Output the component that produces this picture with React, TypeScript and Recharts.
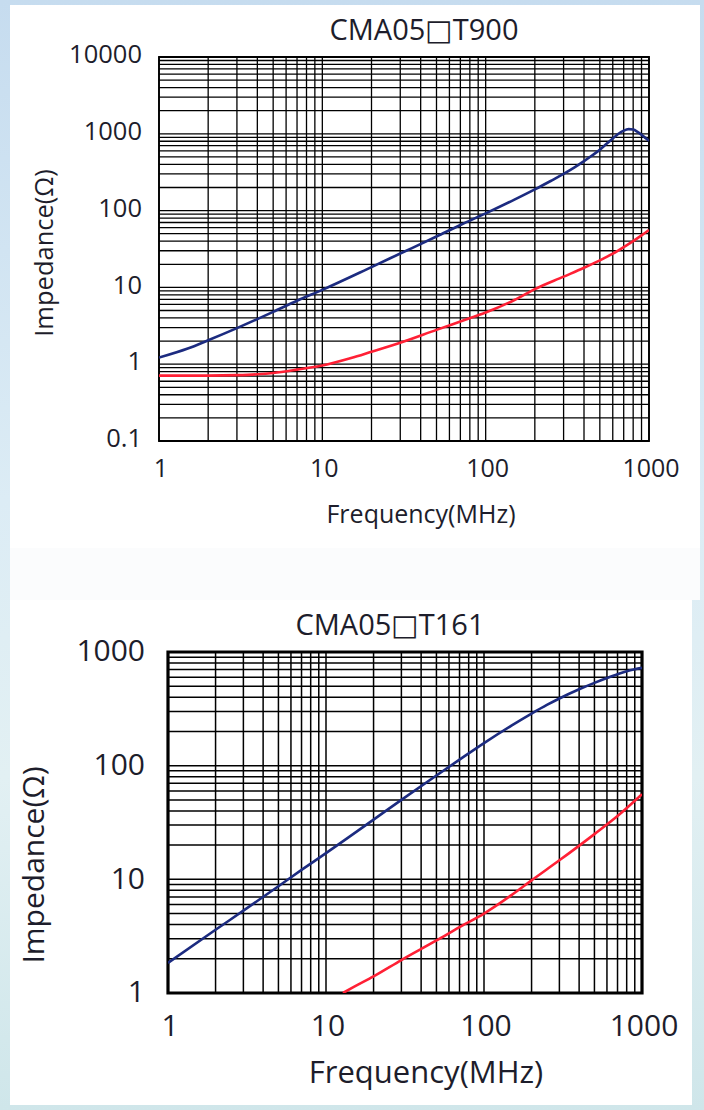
import React from 'react';
import { LineChart, Line, XAxis, YAxis, CartesianGrid, ReferenceArea } from 'recharts';

const FONT = "'Open Sans', 'DejaVu Sans', sans-serif";
const TEXT = '#1d1d2b';
const BLUE = '#1c2b80';
const RED = '#ff2035';

// ---------- shared log grid ----------
const X_TICKS = [1, 10, 100, 1000];
const X_GRID = [
  1, 2, 3, 4, 5, 6, 7, 8, 9,
  10, 20, 30, 40, 50, 60, 70, 80, 90,
  100, 200, 300, 400, 500, 600, 700, 800, 900, 1000,
];

// ---------- chart 1: CMA05□T900 ----------
const TITLE_1 = 'CMA05□T900';
const Y_TICKS_1 = [0.1, 1, 10, 100, 1000, 10000];
const Y_GRID_1 = [
  0.1, 0.2, 0.3, 0.4, 0.5, 0.6, 0.7, 0.8, 0.9,
  1, 2, 3, 4, 5, 6, 7, 8, 9,
  10, 20, 30, 40, 50, 60, 70, 80, 90,
  100, 200, 300, 400, 500, 600, 700, 800, 900,
  1000, 2000, 3000, 4000, 5000, 6000, 7000, 8000, 9000, 10000,
];
const BLUE_FREQ_1 = [1, 1.5, 2, 3, 5, 7, 10, 20, 30, 50, 70, 100, 150, 200, 250, 300, 350, 400, 450, 500, 550, 600, 650, 700, 750, 800, 850, 900, 950, 1000];
const BLUE_Z_1 = [1.22, 1.6, 2.05, 2.95, 4.8, 6.7, 9.3, 18.4, 27.6, 46, 65, 92, 139, 189, 243, 300, 365, 440, 525, 620, 740, 870, 1000, 1100, 1150, 1135, 1060, 970, 885, 810];
const RED_FREQ_1 = [1, 2, 3, 4, 5, 7, 10, 15, 20, 30, 50, 70, 100, 150, 200, 300, 400, 500, 600, 700, 800, 900, 1000];
const RED_Z_1 = [0.71, 0.71, 0.72, 0.74, 0.77, 0.85, 0.96, 1.2, 1.45, 1.9, 2.8, 3.6, 4.7, 6.85, 9.5, 13.8, 18, 22.5, 27.5, 33.5, 40, 47.5, 56];

// ---------- chart 2: CMA05□T161 ----------
const TITLE_2 = 'CMA05□T161';
const Y_TICKS_2 = [1, 10, 100, 1000];
const Y_GRID_2 = [
  1, 2, 3, 4, 5, 6, 7, 8, 9,
  10, 20, 30, 40, 50, 60, 70, 80, 90,
  100, 200, 300, 400, 500, 600, 700, 800, 900, 1000,
];
const BLUE_FREQ_2 = [1, 2, 3, 5, 7, 10, 20, 30, 50, 70, 100, 150, 200, 250, 300, 400, 500, 600, 700, 800, 900, 1000];
const BLUE_Z_2 = [1.84, 3.6, 5.3, 8.7, 12.1, 17, 33.5, 50, 82, 113, 158, 226, 287, 342, 390, 470, 535, 590, 638, 678, 705, 725];
const RED_FREQ_2 = [12.8, 15, 20, 30, 50, 70, 100, 150, 200, 300, 500, 700, 1000];
const RED_Z_2 = [1, 1.13, 1.4, 1.95, 2.9, 3.8, 5.0, 7.3, 9.8, 14.7, 25, 36, 56];

const X_LABEL = 'Frequency(MHz)';
const Y_LABEL = 'Impedance(Ω)';

const toRows = (fs: number[], zs: number[]) => fs.map((f, i) => ({ f, z: zs[i] }));

const blue1 = toRows(BLUE_FREQ_1, BLUE_Z_1);
const red1 = toRows(RED_FREQ_1, RED_Z_1);
const blue2 = toRows(BLUE_FREQ_2, BLUE_Z_2);
const red2 = toRows(RED_FREQ_2, RED_Z_2);

const makeYTick = (fs: number, dy: number) => (p: any) => (
  <text x={p.x} y={p.y + fs * 0.357 + dy} textAnchor="end" fontSize={fs} fontFamily={FONT} fill={TEXT}>
    {String(p.payload.value)}
  </text>
);
const makeXTick = (fs: number, off: number, dx: number) => (p: any) => (
  <text x={p.x + dx} y={p.y + off} textAnchor="middle" fontSize={fs} fontFamily={FONT} fill={TEXT}>
    {String(p.payload.value)}
  </text>
);

export default function App() {
  return (
    <div
      style={{
        position: 'absolute',
        left: 0,
        top: 0,
        width: 704,
        height: 1110,
        overflow: 'hidden',
        background: 'linear-gradient(180deg, #c6dcef 0%, #dcecf5 45%, #e2f0f3 70%, #cfe6ea 100%)',
      }}
    >
      <div style={{ position: 'absolute', left: 10, top: 5, width: 690, height: 543, background: '#ffffff' }} />
      <div style={{ position: 'absolute', left: 10, top: 548, width: 690, height: 52, background: '#fbfcfd' }} />
      <div style={{ position: 'absolute', left: 10, top: 600, width: 682, height: 505, background: '#ffffff' }} />

      <div style={{ position: 'absolute', left: 0, top: 0 }}>
        <LineChart width={704} height={548} margin={{ top: 57, right: 55, bottom: 0, left: 0 }}>
          <CartesianGrid
            stroke="#000"
            strokeWidth={1.3}
            verticalValues={X_GRID}
            horizontalValues={Y_GRID_1}
          />
          <XAxis
            dataKey="f"
            type="number"
            scale="log"
            domain={[1, 1000]}
            allowDataOverflow
            ticks={X_TICKS}
            interval={0}
            height={107}
            axisLine={false}
            tickLine={false}
            tickSize={0}
            tickMargin={0}
            tick={makeXTick(25, 36, 2)}
          />
          <YAxis
            dataKey="z"
            type="number"
            scale="log"
            domain={[0.1, 10000]}
            allowDataOverflow
            ticks={Y_TICKS_1}
            interval={0}
            width={159}
            axisLine={false}
            tickLine={false}
            tickSize={0}
            tickMargin={17}
            tick={makeYTick(25.5, -3)}
          />
          <ReferenceArea x1={1} x2={1000} y1={0.1} y2={10000} fill="none" stroke="#000" strokeWidth={1.8} />
          <Line data={blue1} dataKey="z" type="monotone" stroke={BLUE} strokeWidth={2.6} dot={false} isAnimationActive={false} />
          <Line data={red1} dataKey="z" type="monotone" stroke={RED} strokeWidth={2.6} dot={false} isAnimationActive={false} />
        </LineChart>
      </div>

      <div style={{ position: 'absolute', left: 0, top: 548 }}>
        <LineChart width={704} height={562} margin={{ top: 104, right: 62, bottom: 0, left: 0 }}>
          <CartesianGrid
            stroke="#000"
            strokeWidth={1.5}
            verticalValues={X_GRID}
            horizontalValues={Y_GRID_2}
          />
          <XAxis
            dataKey="f"
            type="number"
            scale="log"
            domain={[1, 1000]}
            allowDataOverflow
            ticks={X_TICKS}
            interval={0}
            height={117}
            axisLine={false}
            tickLine={false}
            tickSize={0}
            tickMargin={0}
            tick={makeXTick(30, 43, 2)}
          />
          <YAxis
            dataKey="z"
            type="number"
            scale="log"
            domain={[1, 1000]}
            allowDataOverflow
            ticks={Y_TICKS_2}
            interval={0}
            width={168}
            axisLine={false}
            tickLine={false}
            tickSize={0}
            tickMargin={23}
            tick={makeYTick(30, -1.5)}
          />
          <ReferenceArea x1={1} x2={1000} y1={1} y2={1000} fill="none" stroke="#000" strokeWidth={3.2} />
          <Line data={blue2} dataKey="z" type="monotone" stroke={BLUE} strokeWidth={2.6} dot={false} isAnimationActive={false} />
          <Line data={red2} dataKey="z" type="monotone" stroke={RED} strokeWidth={2.6} dot={false} isAnimationActive={false} />
        </LineChart>
      </div>

      <svg
        width={704}
        height={1110}
        style={{ position: 'absolute', left: 0, top: 0, pointerEvents: 'none' }}
        fontFamily={FONT}
        fill={TEXT}
      >
        <text x={424} y={40} textAnchor="middle" fontSize={29}>{TITLE_1}</text>
        <text x={421} y={523} textAnchor="middle" fontSize={25}>{X_LABEL}</text>
        <text x={53} y={253} textAnchor="middle" fontSize={25.5} transform="rotate(-90 53 253)">{Y_LABEL}</text>

        <text x={390} y={635} textAnchor="middle" fontSize={29}>{TITLE_2}</text>
        <text x={426} y={1083} textAnchor="middle" fontSize={31}>{X_LABEL}</text>
        <text x={44} y={865} textAnchor="middle" fontSize={30} transform="rotate(-90 44 865)">{Y_LABEL}</text>
      </svg>
    </div>
  );
}
